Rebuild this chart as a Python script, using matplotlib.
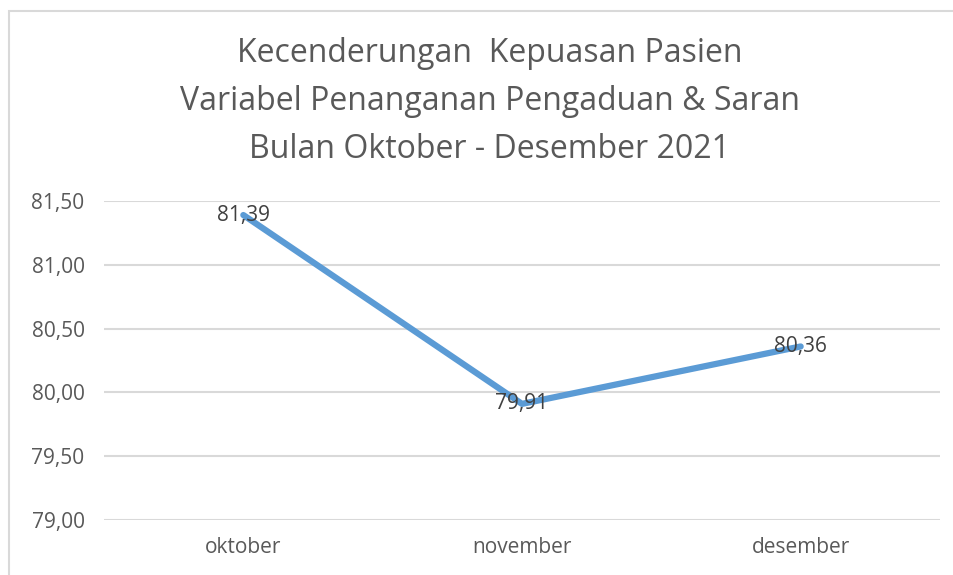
import matplotlib.pyplot as plt
from matplotlib.patches import Rectangle

bulan = ["oktober", "november", "desember"]
nilai = [81.39, 79.91, 80.36]
yticks = [79.00, 79.50, 80.00, 80.50, 81.00, 81.50]

judul = ("Kecenderungan  Kepuasan Pasien\n"
         "Variabel Penanganan Pengaduan & Saran\n"
         "Bulan Oktober - Desember 2021")


def fmt(v):
    return f"{v:.2f}".replace(".", ",")


plt.rcParams['font.family'] = ['Open Sans', 'DejaVu Sans']

fig = plt.figure(figsize=(9.54, 5.75), dpi=100)
ax = fig.add_axes([104 / 954, 1 - 520 / 575, 836 / 954, 319 / 575])

# bingkai chart (kanan & bawah terpotong)
fig.patches.append(Rectangle((9 / 954, -0.05), 1.0, 1 - 11 / 575 + 0.05,
                             transform=fig.transFigure, fill=False,
                             edgecolor='#d9d9d9', linewidth=1.5))

x = list(range(len(bulan)))
ax.plot(x, nilai, color='#5b9bd5', linewidth=4.5, solid_capstyle='round', zorder=3)
for xi, v in zip(x, nilai):
    ax.text(xi, v, fmt(v), ha='center', va='center', fontsize=15,
            color='#404040', zorder=4)

ax.set_xlim(-0.5, 2.5)
ax.set_ylim(79.0, 81.5)
ax.set_yticks(yticks)
ax.set_yticklabels([fmt(v) for v in yticks])
ax.set_xticks(x)
ax.set_xticklabels(bulan)
ax.tick_params(axis='both', length=0, labelsize=15, labelcolor='#595959')
ax.tick_params(axis='y', pad=14)
ax.tick_params(axis='x', pad=12)
ax.grid(axis='y', color='#d9d9d9', linewidth=1.5)
ax.set_axisbelow(True)
for s in ax.spines.values():
    s.set_visible(False)

fig.text(490 / 954, 1 - 102 / 575, judul, ha='center', va='center',
         fontsize=23, color='#595959', linespacing=1.6)

fig.savefig("out.png", dpi=100)
